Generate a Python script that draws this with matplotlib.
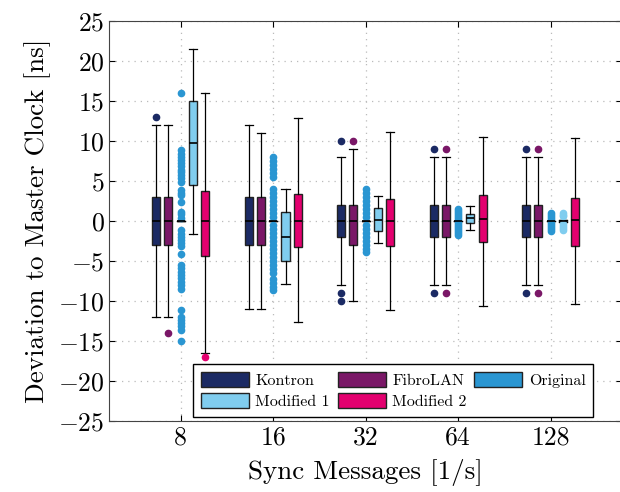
import numpy as np
import matplotlib
matplotlib.use('Agg')
import matplotlib.pyplot as plt
from matplotlib.patches import Patch

plt.rcParams['font.family'] = 'serif'
plt.rcParams['font.serif'] = ['cmr10']
plt.rcParams['mathtext.fontset'] = 'cm'
plt.rcParams['axes.formatter.use_mathtext'] = True

# sync message rates and the devices / clock variants
rates = ['8', '16', '32', '64', '128']
series = ['Kontron', 'FibroLAN', 'Original', 'Modified 1', 'Modified 2']
colors = ['#1b2a64', '#7a1767', '#2a96d2', '#80cdef', '#e3006f']

# box statistics per series, one entry per rate: (whislo, q1, med, q3, whishi)
kontron = [(-12, -3, 0, 3, 12), (-11, -3, 0, 3, 12), (-8, -2, 0, 2, 8),
           (-8, -2, 0, 2, 8), (-8, -2, 0, 2, 8)]
fibrolan = [(-12, -3, 0, 3, 12), (-11, -3, 0, 3, 11), (-10, -3, 0, 2, 9),
            (-8, -2, 0, 2, 8), (-8, -2, 0, 2, 8)]
original = [(0, 0, 0, 0, 0), (0, 0, 0, 0, 0), (0, 0, 0, 0, 0),
            (0, 0, 0, 0, 0), (0, 0, 0, 0, 0)]
modified1 = [(-1.6, 4.5, 9.7, 15, 21.5), (-7.9, -5, -2, 1.05, 4),
             (-2.8, -1.3, 0.1, 1.6, 3.1), (-1.2, -0.3, 0.35, 0.9, 1.8),
             (-0.15, -0.1, 0, 0.1, 0.15)]
modified2 = [(-16.5, -4.45, 0, 3.7, 16), (-12.6, -3.3, 0, 3.3, 12.8),
             (-11.2, -3.2, 0, 2.75, 11.1), (-10.6, -2.7, 0.2, 3.25, 10.5),
             (-10.4, -3.2, 0.1, 2.9, 10.3)]

# outliers per series and rate
kontron_out = [[13], [], [10, -9, -10], [9, -9], [9, -9]]
fibrolan_out = [[-14], [], [10], [9, -9], [9, -9]]
original_out = [
    [16, 8.8, 8.4, 8.0, 7.6, 7.2, 6.8, 6.4, 6.1, 5.7, 5.3, 4.9, 3.8, 3.5, 3.2,
     2.3, 1.1, 0.8, 0.4, -1.2, -1.6, -2.0, -2.4, -2.8, -3.2, -4.1, -5.5, -5.9,
     -6.4, -6.8, -7.2, -7.6, -8.0, -8.5, -11.1, -12.0, -12.4, -12.8, -13.2,
     -13.6, -15.0],
    [8.0, 7.5, 7.0, 6.5, 6.0, 5.5, 4.0, 3.5, 3.0, 2.5, 2.0, 1.5, 1.0, 0.5,
     -0.5, -1.0, -1.5, -2.0, -2.5, -3.0, -3.5, -4.0, -4.5, -5.0, -5.5, -6.0,
     -6.5, -7.3, -7.8, -8.3, -8.7],
    [4.0, 3.5, 3.0, 2.5, 2.0, 1.5, 1.0, 0.5, -0.5, -1.0, -1.5, -2.0, -2.5,
     -3.0, -3.5, -3.9],
    [1.5, 1.25, 1.0, 0.75, 0.5, 0.25, -0.25, -0.5, -0.75, -1.0, -1.25, -1.5,
     -1.75],
    [1.0, 0.75, 0.5, 0.25, -0.25, -0.5, -0.75, -1.0, -1.25],
]
modified1_out = [[], [], [], [], [1.0, 0.75, 0.55, -0.45, -0.7, -0.95, -1.2]]
modified2_out = [[-17], [], [], [], []]

all_stats = [kontron, fibrolan, original, modified1, modified2]
all_out = [kontron_out, fibrolan_out, original_out, modified1_out, modified2_out]

fig = plt.figure(figsize=(6.2, 4.92), dpi=100)
ax = fig.add_axes([0.1763, 0.1449, 0.827, 0.813])

offsets = [-0.266, -0.133, 0, 0.133, 0.266]
width = 0.087
x = np.arange(len(rates))

for k in range(len(series)):
    stats = []
    for i in range(len(rates)):
        lo, q1, med, q3, hi = all_stats[k][i]
        stats.append(dict(whislo=lo, q1=q1, med=med, q3=q3, whishi=hi,
                          fliers=all_out[k][i]))
    ax.bxp(stats, positions=x + offsets[k], widths=width, patch_artist=True,
           showfliers=True, manage_ticks=False,
           boxprops=dict(facecolor=colors[k], edgecolor='#222222', linewidth=1.0),
           medianprops=dict(color='black', linewidth=1.2),
           whiskerprops=dict(color='black', linewidth=0.9),
           capprops=dict(color='black', linewidth=0.9),
           capwidths=width,
           flierprops=dict(marker='o', markerfacecolor=colors[k],
                           markeredgecolor=colors[k], markersize=4.5))

ax.set_xlim(-0.773, 4.773)
ax.set_ylim(-25, 25)
ax.set_xticks(x)
ax.set_xticklabels(rates)
ax.set_yticks(np.arange(-25, 26, 5))
ax.tick_params(direction='in', top=True, right=True, labelsize=18.5, length=4)
ax.grid(True, color='#bbbbbb', linestyle=(0, (1, 4)), linewidth=0.9)
ax.set_axisbelow(True)
for s in ax.spines.values():
    s.set_color('#444444')

ax.set_xlabel('Sync Messages [1/s]', fontsize=19.5, labelpad=7)
ax.set_ylabel('Deviation to Master Clock [ns]', fontsize=19.5, labelpad=5)

# legend is filled column by column, so order the handles to read row-wise
order = [0, 3, 1, 4, 2]
handles = [Patch(facecolor=colors[j], edgecolor='#222222', label=series[j]) for j in order]
ax.legend(handles=handles, ncol=3, loc='lower left',
          bbox_to_anchor=(193 / 620, 1 - 417 / 492), bbox_transform=fig.transFigure,
          borderaxespad=0, fontsize=11.5, fancybox=False, edgecolor='black',
          framealpha=1, handlelength=3.0, handleheight=1.05, handletextpad=0.4,
          columnspacing=0.5, borderpad=0.5, labelspacing=0.35)

fig.savefig('out.png', dpi=100)
